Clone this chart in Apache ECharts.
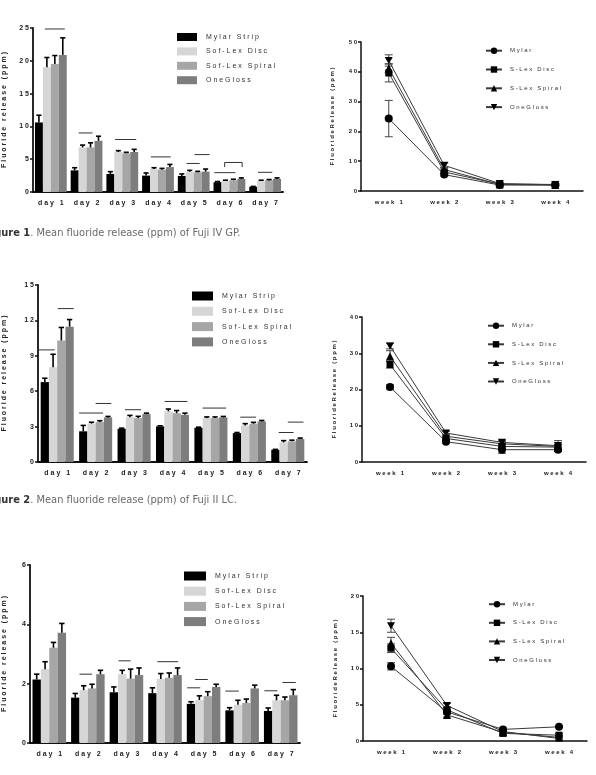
<!DOCTYPE html>
<html>
<head>
<meta charset="utf-8">
<title>Mean fluoride release</title>
<script src="https://cdn.jsdelivr.net/npm/echarts@6/dist/echarts.min.js"></script>
<style>
  html, body { margin: 0; padding: 0; background: #fff; }
  #chart { width: 596px; height: 775px; }
</style>
</head>
<body>
<div id="chart"></div>
<script>
const days = ['day 1', 'day 2', 'day 3', 'day 4', 'day 5', 'day 6', 'day 7']
const weeks = ['week 1', 'week 2', 'week 3', 'week 4']
const barNames = ['Mylar Strip', 'Sof-Lex Disc', 'Sof-Lex Spiral', 'OneGloss']
const lineNames = ['Mylar', 'S-Lex Disc', 'S-Lex Spiral', 'OneGloss']

// Figure 1 - Fuji IV GP, daily (ppm) + SD
const gpDayMylar = [10.6, 3.3, 2.75, 2.5, 2.45, 1.5, 0.8]
const gpDayDisc = [19.0, 6.8, 6.1, 3.5, 3.1, 1.7, 1.7]
const gpDaySpiral = [19.5, 6.8, 5.9, 3.4, 3.0, 1.8, 1.8]
const gpDayGloss = [20.9, 7.8, 6.1, 3.8, 3.1, 2.0, 2.0]
const gpDayMylarSd = [1.1, 0.4, 0.35, 0.4, 0.3, 0.1, 0.05]
const gpDayDiscSd = [1.5, 0.35, 0.2, 0.2, 0.2, 0.1, 0.1]
const gpDaySpiralSd = [1.3, 0.7, 0.15, 0.2, 0.15, 0.15, 0.1]
const gpDayGlossSd = [2.6, 0.7, 0.4, 0.4, 0.4, 0.15, 0.15]
// [day, from bar, to bar, level, bracket foot]
const gpDaySig = [[0, 1.25, 3.75, 24.85, 0], [1, 1.0, 2.75, 9.0, 0], [2, 1.1, 3.75, 8.0, 0], [3, 1.1, 3.6, 5.35, 0],
    [4, 1.1, 2.75, 4.35, 0], [4, 2.1, 4.0, 5.7, 0], [5, 0.1, 2.75, 2.95, 0], [5, 1.4, 3.6, 4.5, 3.8], [6, 1.1, 2.9, 3.0, 0]]

// Figure 1 - Fuji IV GP, weekly
const gpWeekMylar = [24.3, 5.5, 2.0, 2.0]
const gpWeekDisc = [39.6, 6.4, 2.3, 2.2]
const gpWeekSpiral = [41.2, 7.2, 2.2, 2.0]
const gpWeekGloss = [43.8, 8.6, 2.5, 2.1]
const gpWeekMylarSd = [6.1, 0.5, 0.3, 0.3]
const gpWeekDiscSd = [3.0, 0.5, 0.3, 0.3]
const gpWeekSpiralSd = [1.5, 0.6, 0.3, 0.3]
const gpWeekGlossSd = [1.9, 0.8, 0.3, 0.3]

// Figure 2 - Fuji II LC, daily
const lcDayMylar = [6.77, 2.6, 2.82, 3.02, 2.9, 2.45, 1.04]
const lcDayDisc = [8.03, 3.25, 3.8, 4.29, 3.72, 3.1, 1.66]
const lcDaySpiral = [10.3, 3.38, 3.72, 4.14, 3.72, 3.24, 1.75]
const lcDayGloss = [11.47, 3.78, 4.06, 4.0, 3.78, 3.44, 1.95]
const lcDayMylarSd = [0.33, 0.5, 0.05, 0.05, 0.05, 0.05, 0.03]
const lcDayDiscSd = [1.1, 0.12, 0.15, 0.2, 0.1, 0.15, 0.15]
const lcDaySpiralSd = [1.1, 0.12, 0.15, 0.22, 0.1, 0.12, 0.1]
const lcDayGlossSd = [0.6, 0.08, 0.08, 0.14, 0.08, 0.08, 0.08]
const lcDaySig = [[0, -0.2, 1.7, 9.5, 0], [0, 2.07, 4.0, 13.0, 0], [1, 0, 2.9, 4.15, 0], [1, 2.0, 3.9, 4.96, 0],
    [2, 0.9, 2.85, 4.43, 0], [3, 1.05, 3.8, 5.13, 0], [4, 1.0, 3.85, 4.57, 0], [5, 0.9, 2.8, 3.8, 0],
    [6, 0.9, 2.7, 2.5, 0], [6, 2.0, 3.9, 3.38, 0]]

// Figure 2 - Fuji II LC, weekly
const lcWeekMylar = [20.7, 5.6, 3.4, 3.4]
const lcWeekDisc = [26.9, 6.5, 4.3, 4.1]
const lcWeekSpiral = [29.2, 7.1, 5.0, 4.3]
const lcWeekGloss = [32.0, 8.0, 5.4, 4.5]
const lcWeekMylarSd = [0.6, 0.4, 1.0, 0.5]
const lcWeekDiscSd = [1.0, 0.4, 0.8, 0.6]
const lcWeekSpiralSd = [1.5, 0.5, 0.7, 0.6]
const lcWeekGlossSd = [0.8, 0.5, 0.6, 1.4]

// Figure 3, daily
const f3DayMylar = [2.14, 1.53, 1.71, 1.68, 1.32, 1.1, 1.08]
const f3DayDisc = [2.49, 1.78, 2.32, 2.16, 1.45, 1.29, 1.44]
const f3DaySpiral = [3.21, 1.84, 2.17, 2.2, 1.58, 1.35, 1.44]
const f3DayGloss = [3.72, 2.32, 2.29, 2.29, 1.89, 1.84, 1.61]
const f3DayMylarSd = [0.18, 0.14, 0.18, 0.18, 0.07, 0.09, 0.1]
const f3DayDiscSd = [0.25, 0.15, 0.13, 0.18, 0.14, 0.15, 0.17]
const f3DaySpiralSd = [0.18, 0.14, 0.32, 0.16, 0.15, 0.13, 0.11]
const f3DayGlossSd = [0.31, 0.13, 0.24, 0.24, 0.09, 0.11, 0.19]
const f3DaySig = [[1, 1.0, 2.5, 2.32, 0], [2, 1.05, 2.5, 2.77, 0], [3, 1.08, 3.57, 2.74, 0], [4, 0.05, 1.6, 1.86, 0],
    [4, 1.0, 2.5, 2.14, 0], [5, 0, 1.6, 1.75, 0], [6, 0.05, 1.6, 1.76, 0], [6, 2.2, 3.8, 2.04, 0]]

// Figure 3, weekly
const f3WeekMylar = [10.3, 4.0, 1.6, 1.96]
const f3WeekDisc = [12.8, 4.3, 1.05, 0.8]
const f3WeekSpiral = [13.5, 3.6, 1.2, 0.5]
const f3WeekGloss = [15.9, 4.9, 1.3, 0.35]
const f3WeekMylarSd = [0.5, 0.3, 0.2, 0.1]
const f3WeekDiscSd = [0.6, 0.3, 0.2, 0.2]
const f3WeekSpiralSd = [0.8, 0.3, 0.2, 0.2]
const f3WeekGlossSd = [0.9, 0.3, 0.2, 0.2]

const FONT = '"Liberation Sans", Arial, sans-serif'
const CAPTION_FONT = '"Liberation Sans Narrow", "DejaVu Sans Condensed", sans-serif'
const barColors = ['#000000', '#d6d6d6', '#a6a6a6', '#7d7d7d']
const lineSymbols = ['circle', 'rect', 'triangle', 'path://M0,0L10,0L5,9Z']
const spaced = s => String(s).trim().split('').join(' ')
// line series get a trailing space so "OneGloss" doesn't pick up the bar legend icon
const lineKeys = lineNames.map(n => n + ' ')

const barPanels = [
    {
        grid: { left: 31, top: 28, width: 252, height: 164 }, max: 25, interval: 5, gap: 0.11, nameGap: 25,
        values: [gpDayMylar, gpDayDisc, gpDaySpiral, gpDayGloss],
        sd: [gpDayMylarSd, gpDayDiscSd, gpDaySpiralSd, gpDayGlossSd],
        sig: gpDaySig, legend: { left: 177, top: 33, itemWidth: 20, itemHeight: 8, itemGap: 6.4 },
    },
    {
        grid: { left: 35, top: 285, width: 272, height: 177 }, max: 15, interval: 3, gap: 0.14, nameGap: 30,
        values: [lcDayMylar, lcDayDisc, lcDaySpiral, lcDayGloss],
        sd: [lcDayMylarSd, lcDayDiscSd, lcDaySpiralSd, lcDayGlossSd],
        sig: lcDaySig, legend: { left: 192, top: 291.5, itemWidth: 21, itemHeight: 9, itemGap: 6.3 },
    },
    {
        grid: { left: 28, top: 565, width: 272, height: 178 }, max: 6, interval: 2, gap: 0.13, nameGap: 22,
        values: [f3DayMylar, f3DayDisc, f3DaySpiral, f3DayGloss],
        sd: [f3DayMylarSd, f3DayDiscSd, f3DaySpiralSd, f3DayGlossSd],
        sig: f3DaySig, legend: { left: 184, top: 571.5, itemWidth: 22, itemHeight: 9, itemGap: 6.2 },
    },
]

const linePanels = [
    {
        grid: { left: 361, top: 42, width: 222, height: 149 }, max: 50, interval: 10, nameGap: 26,
        values: [gpWeekMylar, gpWeekDisc, gpWeekSpiral, gpWeekGloss],
        sd: [gpWeekMylarSd, gpWeekDiscSd, gpWeekSpiralSd, gpWeekGlossSd],
        legend: { left: 485, top: 47.5, itemGap: 12.4 },
    },
    {
        grid: { left: 362, top: 317, width: 224, height: 145 }, max: 40, interval: 10, nameGap: 25,
        values: [lcWeekMylar, lcWeekDisc, lcWeekSpiral, lcWeekGloss],
        sd: [lcWeekMylarSd, lcWeekDiscSd, lcWeekSpiralSd, lcWeekGlossSd],
        legend: { left: 487, top: 322.5, itemGap: 12.2 },
    },
    {
        grid: { left: 363, top: 596, width: 224, height: 145 }, max: 20, interval: 5, nameGap: 25,
        values: [f3WeekMylar, f3WeekDisc, f3WeekSpiral, f3WeekGloss],
        sd: [f3WeekMylarSd, f3WeekDiscSd, f3WeekSpiralSd, f3WeekGlossSd],
        legend: { left: 488, top: 601, itemGap: 12.2 },
    },
]

function barGeom(api, cat, gap) {
    const band = api.size([1, 0])[0]
    const center = api.coord([cat, 0])[0]
    return { start: center - band / 2 + band * gap / 2, bw: band * (1 - gap) / 4 }
}

function barErrRender(gap) {
    return function (params, api) {
        const cat = api.value(0)
        const g = barGeom(api, cat, gap)
        const x = g.start + (api.value(1) + 0.5) * g.bw
        const yMid = api.coord([cat, api.value(2)])[1]
        const yTop = api.coord([cat, api.value(3)])[1]
        const half = g.bw * 0.32
        const style = { stroke: '#000', lineWidth: 1.6 }
        return {
            type: 'group',
            children: [
                { type: 'line', shape: { x1: x, y1: yMid, x2: x, y2: yTop }, style },
                { type: 'line', shape: { x1: x - half, y1: yTop, x2: x + half, y2: yTop }, style },
            ],
        }
    }
}

function sigRender(gap) {
    return function (params, api) {
        const cat = api.value(0)
        const g = barGeom(api, cat, gap)
        const x1 = g.start + api.value(1) * g.bw
        const x2 = g.start + api.value(2) * g.bw
        const y = api.coord([cat, api.value(3)])[1]
        const foot = api.value(4)
        const style = { stroke: '#333', lineWidth: 1, fill: null }
        if (foot > 0) {
            const yl = api.coord([cat, foot])[1]
            return { type: 'polyline', shape: { points: [[x1, yl], [x1, y], [x2, y], [x2, yl]] }, style }
        }
        return { type: 'line', shape: { x1: x1, y1: y, x2: x2, y2: y }, style }
    }
}

function lineErrRender(params, api) {
    const cat = api.value(0)
    const lo = api.coord([cat, api.value(1)])
    const hi = api.coord([cat, api.value(2)])
    const half = 4
    const style = { stroke: '#444', lineWidth: 1 }
    return {
        type: 'group',
        children: [
            { type: 'line', shape: { x1: lo[0], y1: lo[1], x2: hi[0], y2: hi[1] }, style },
            { type: 'line', shape: { x1: hi[0] - half, y1: hi[1], x2: hi[0] + half, y2: hi[1] }, style },
            { type: 'line', shape: { x1: lo[0] - half, y1: lo[1], x2: lo[0] + half, y2: lo[1] }, style },
        ],
    }
}

const option = {
    animation: false,
    backgroundColor: '#fff',
    textStyle: { fontFamily: FONT },
    grid: [], xAxis: [], yAxis: [], legend: [], series: [],
}

function addAxes(grid, cats, max, interval, name, nameGap, fs) {
    const i = option.grid.length
    option.grid.push(grid)
    option.xAxis.push({
        type: 'category', gridIndex: i, data: cats,
        axisLine: { lineStyle: { color: '#111', width: 1.8 } },
        axisTick: { alignWithLabel: true, length: 4, lineStyle: { color: '#111', width: 1.5 } },
        axisLabel: { formatter: spaced, fontSize: fs, fontWeight: 'bold', color: '#222', margin: 8, interval: 0 },
    })
    option.yAxis.push({
        type: 'value', gridIndex: i, min: 0, max: max, interval: interval,
        splitLine: { show: false },
        axisLine: { show: true, lineStyle: { color: '#111', width: 1.8 } },
        axisTick: { show: true, length: 3, lineStyle: { color: '#111', width: 1.5 } },
        axisLabel: { formatter: spaced, fontSize: fs, fontWeight: 'bold', color: '#222', margin: 4 },
        name: name, nameLocation: 'middle', nameGap: nameGap, nameRotate: 90,
        nameTextStyle: { fontSize: fs, fontWeight: 'bold', color: '#222' },
    })
    return i
}

barPanels.forEach(p => {
    const i = addAxes(p.grid, days, p.max, p.interval, spaced('Fluoride release (ppm)'), p.nameGap, 7)
    option.legend.push(Object.assign({
        orient: 'vertical', padding: 0, icon: 'rect', selectedMode: false,
        data: barNames, formatter: spaced,
        textStyle: { fontSize: 7, color: '#333', padding: [0, 0, 0, 4] },
    }, p.legend))
    barNames.forEach((name, k) => {
        option.series.push({
            type: 'bar', name: name, xAxisIndex: i, yAxisIndex: i,
            data: p.values[k], barGap: '0%', barCategoryGap: (p.gap * 100) + '%',
            itemStyle: { color: barColors[k] },
        })
    })
    const errData = []
    p.values.forEach((vals, k) => vals.forEach((v, d) => {
        if (p.sd[k][d] > 0) errData.push([d, k, v, v + p.sd[k][d]])
    }))
    option.series.push({
        type: 'custom', xAxisIndex: i, yAxisIndex: i, silent: true, z: 5,
        renderItem: barErrRender(p.gap), encode: { x: 0, y: 3 }, data: errData,
    })
    option.series.push({
        type: 'custom', xAxisIndex: i, yAxisIndex: i, silent: true, z: 5,
        renderItem: sigRender(p.gap), encode: { x: 0, y: 3 }, data: p.sig,
    })
})

linePanels.forEach(p => {
    const i = addAxes(p.grid, weeks, p.max, p.interval, spaced('FluorideRelease (ppm)'), p.nameGap, 6)
    option.xAxis[i].axisLine.lineStyle.width = 1.5
    option.yAxis[i].axisLine.lineStyle.width = 1.5
    option.legend.push(Object.assign({
        orient: 'vertical', padding: 0, selectedMode: false,
        itemWidth: 16, itemHeight: 8,
        data: lineKeys, formatter: spaced,
        textStyle: { fontSize: 6, color: '#333', padding: [0, 0, 0, 3] },
    }, p.legend))
    const errData = []
    p.values.forEach((vals, k) => vals.forEach((v, w) => {
        errData.push([w, v - p.sd[k][w], v + p.sd[k][w]])
    }))
    option.series.push({
        type: 'custom', xAxisIndex: i, yAxisIndex: i, silent: true, z: 1,
        renderItem: lineErrRender, encode: { x: 0, y: [1, 2] }, data: errData,
    })
    lineKeys.forEach((name, k) => {
        option.series.push({
            type: 'line', name: name, xAxisIndex: i, yAxisIndex: i, z: 3,
            data: p.values[k], symbol: lineSymbols[k], symbolSize: k === 1 ? 7 : 8,
            symbolKeepAspect: true,
            itemStyle: { color: '#000' },
            lineStyle: { color: '#3a3a3a', width: 1 },
        })
    })
})

const captionStyle = {
    fontFamily: CAPTION_FONT, fontSize: 11, fill: '#6a6a6a', verticalAlign: 'middle',
    rich: { b: { fontWeight: 'bold', fill: '#333', fontSize: 11, fontFamily: CAPTION_FONT } },
}
option.graphic = [
    { type: 'text', x: -16, y: 233, style: Object.assign({ text: '{b|Figure 1}. Mean fluoride release (ppm) of Fuji IV GP.' }, captionStyle) },
    { type: 'text', x: -16, y: 500, style: Object.assign({ text: '{b|Figure 2}. Mean fluoride release (ppm) of Fuji II LC.' }, captionStyle) },
]

const chart = echarts.init(document.getElementById('chart'), null, { renderer: 'canvas' })
chart.setOption(option)
</script>
</body>
</html>
